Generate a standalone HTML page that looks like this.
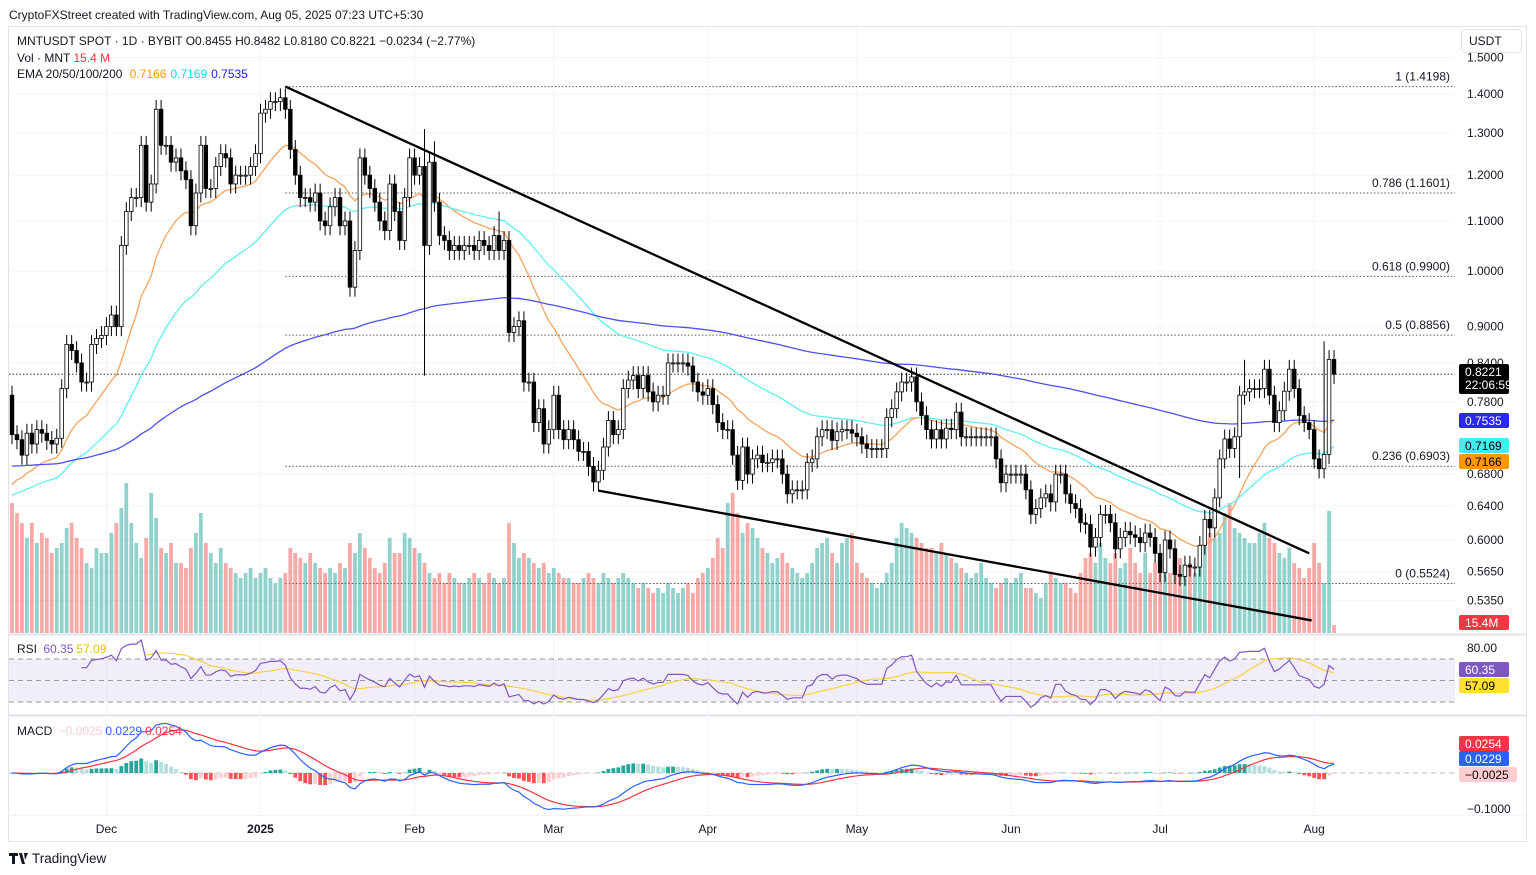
<!DOCTYPE html>
<html><head><meta charset="utf-8">
<style>
body{margin:0;background:#fff;width:1536px;height:875px;overflow:hidden;font-family:"Liberation Sans",sans-serif;}
svg{position:absolute;left:0;top:0;}
</style></head>
<body>
<svg id="chart" width="1536" height="875" viewBox="0 0 1536 875" xmlns="http://www.w3.org/2000/svg"></svg>
<script>
const closes = [
0.733,0.726,0.705,0.735,0.72,0.74,0.735,0.725,0.72,0.728,0.8,0.87,0.86,0.84,0.81,0.81,0.87,0.88,0.885,
0.9,0.92,0.9,1.05,1.12,1.15,1.15,1.27,1.14,1.18,1.36,1.27,1.27,1.23,1.24,1.21,1.19,1.09,1.16,1.27,1.17,1.17,1.22,1.25,1.24,1.18,1.2,1.2,1.2,1.22,1.25,
1.35,1.36,1.38,1.38,1.39,1.36,1.26,1.2,1.15,1.15,1.14,1.16,1.1,1.09,1.13,1.15,1.09,1.1,0.97,1.04,1.24,1.2,1.17,1.14,1.1,1.08,1.18,1.12,1.06,1.15,1.24,
1.2,1.22,1.05,1.23,1.14,1.07,1.06,1.04,1.05,1.04,1.05,1.05,1.04,1.06,1.05,1.04,1.07,1.04,1.06,0.89,0.9,0.91,0.81,0.81,0.75,0.77,0.72,0.74,
0.79,0.74,0.726,0.74,0.726,0.71,0.71,0.69,0.67,0.685,0.716,0.753,0.733,0.74,0.8,0.813,0.82,0.8,0.82,0.795,0.78,0.79,0.79,0.84,0.84,0.84,0.84,0.835,0.81,0.795,0.79,
0.8,0.776,0.75,0.74,0.74,0.705,0.672,0.716,0.68,0.7,0.705,0.695,0.695,0.7,0.7,0.68,0.655,0.66,0.66,0.66,0.695,0.7,0.73,0.74,0.74,0.725,0.737,0.74,0.74,0.735,
0.73,0.72,0.714,0.714,0.714,0.714,0.757,0.77,0.795,0.81,0.81,0.818,0.78,0.76,0.74,0.727,0.74,0.727,0.742,0.74,0.765,0.73,0.73,0.73,0.73,0.73,0.73,0.73,0.7,0.669,0.68,
0.68,0.68,0.68,0.66,0.63,0.637,0.65,0.655,0.645,0.68,0.68,0.655,0.643,0.637,0.62,0.618,0.592,0.603,0.63,0.63,0.62,0.59,0.603,0.61,0.606,0.603,0.597,0.608,0.603,0.585,
0.564,0.6,0.59,0.562,0.56,0.572,0.57,0.57,0.594,0.624,0.614,0.65,0.7,0.727,0.714,0.73,0.79,0.795,0.8,0.8,0.8,0.83,0.79,0.75,0.767,0.796,0.83,0.8,0.76,0.75,0.74,
0.7,0.687,0.706,0.8455,0.8221];
const firstOpen = 0.79;
const volumes = [
130,120,110,95,110,90,100,95,80,85,90,105,110,95,85,70,65,85,80,
80,100,110,125,150,110,90,75,95,140,115,85,80,90,70,70,65,85,100,120,90,80,70,85,70,65,60,55,60,65,55,
60,65,55,50,55,60,85,80,75,70,80,70,65,60,65,60,70,65,90,80,100,85,75,65,60,70,95,80,80,100,95,
85,80,70,60,55,60,50,60,55,50,50,55,60,55,50,60,55,50,55,110,90,75,80,75,70,65,70,60,
65,60,55,55,50,50,55,60,55,50,60,55,50,55,60,55,50,45,50,45,40,45,40,50,45,40,45,50,40,55,60,
65,75,95,85,130,140,120,100,110,105,95,85,80,70,75,80,70,65,60,55,60,70,85,90,95,80,70,90,95,100,
70,60,55,50,45,50,60,70,95,110,105,100,95,90,85,85,80,90,80,75,70,65,60,55,60,70,55,50,45,50,55,
50,55,60,45,45,40,35,50,60,55,50,50,45,40,60,75,80,70,90,75,70,80,65,70,85,70,60,80,60,70,
65,75,60,85,75,65,70,60,80,95,100,95,100,120,130,105,100,95,90,90,100,110,95,90,80,75,85,70,65,55,65,
90,70,50,122,8];
const wickHighs = {83:1.31,85:1.28,98:1.12,248:0.845,264:0.875};
const wickLows = {83:0.82,247:0.675};
const monthLabels = ["Dec","2025","Feb","Mar","Apr","May","Jun","Jul","Aug"];
const monthIndex = [19,50,81,109,140,170,201,231,262];
const priceTicks = [1.5,1.4,1.3,1.2,1.1,1.0,0.9,0.84,0.78,0.68,0.64,0.6,0.565,0.535];
const fibLevels = [1.4198,1.1601,0.99,0.8856,0.6903,0.5524];
const fibNames = ["1","0.786","0.618","0.5","0.236","0"];
const emaPeriods = [20,50,200];
const emaSeeds = [0.66,0.65,0.69];
const emaColors = ["#f7a35c","#5ff0f0","#4f4ff2"];
const upperTrend = [[55,1.4198],[261,0.585]];
const lowerTrend = [[118,0.659],[261.5,0.515]];

const NS="http://www.w3.org/2000/svg";
const svg=document.getElementById('chart');
function mk(tag,attrs,parent){const e=document.createElementNS(NS,tag);for(const k in attrs)e.setAttribute(k,attrs[k]);(parent||svg).appendChild(e);return e;}
function txt(s,attrs,parent){const e=mk('text',attrs,parent);e.textContent=s;return e;}
const xOf=i=>12+i*4.97;
const yP=p=>94-526.4*Math.log(p/1.4);
const yV=v=>633-v;
const yR=r=>680.5-(r-50)*1.075;
const yM=m=>773-m*380;

let g=mk('g',{});


mk('rect',{x:8.5,y:26.5,width:1518,height:815,fill:'none',stroke:'#e0e3eb'},g);
mk('line',{x1:8,y1:634.5,x2:1527,y2:634.5,stroke:'#e0e3eb','stroke-width':2},g);
mk('line',{x1:8,y1:715.5,x2:1527,y2:715.5,stroke:'#e0e3eb','stroke-width':2},g);
mk('line',{x1:8,y1:815.5,x2:1527,y2:815.5,stroke:'#f0f3fa'},g);

let t=txt('CryptoFXStreet created with TradingView.com, Aug 05, 2025 07:23 UTC+5:30',{x:9,y:19,'font-size':12,fill:'#131722'});


const grid=mk('g',{});

priceTicks.forEach(p=>mk('line',{x1:9,x2:1455,y1:yP(p),y2:yP(p),stroke:'#f3f4f7'},grid));
monthIndex.forEach(i=>mk('line',{x1:xOf(i),x2:xOf(i),y1:27,y2:815,stroke:'#f3f4f7'},grid));

const pax=mk('g',{'font-size':12,fill:'#131722'});

priceTicks.forEach(p=>{txt(p.toFixed(4),{x:1467,y:yP(p)+4},pax);});
const ub=mk('g',{});
mk('rect',{x:1461.5,y:29.5,width:60,height:23,rx:4,fill:'#fff',stroke:'#e0e3eb'},ub);
txt('USDT',{x:1469,y:45,'font-size':12,fill:'#131722'},ub);

const fg=mk('g',{});
fibLevels.forEach((p,k)=>{
  const y=yP(p);
  mk('line',{x1:xOf(55),x2:1455,y1:y,y2:y,stroke:'#555','stroke-dasharray':'1.5,2','stroke-width':1},fg);
  txt(fibNames[k]+' ('+p.toFixed(4)+')',{x:1450,y:y-6,'text-anchor':'end','font-size':12,fill:'#131722'},fg);
});
mk('line',{x1:9,x2:1455,y1:yP(0.8221),y2:yP(0.8221),stroke:'#333','stroke-dasharray':'1.5,2'});

const opens=[],highs=[],lows=[];
closes.forEach((c,i)=>{
  const o=i===0?firstOpen:(i===266?0.8455:closes[i-1]);
  opens.push(o);
  highs.push(wickHighs[i]!==undefined?wickHighs[i]:Math.max(o,c)*1.018);
  lows.push(wickLows[i]!==undefined?wickLows[i]:Math.min(o,c)*0.982);
});
const vg=mk('g',{});
volumes.forEach((v,i)=>{
  const up=closes[i]>=opens[i];
  const b=mk('rect',{x:xOf(i)-1.9,y:yV(v),width:3.8,height:v,fill:up?'rgba(38,166,154,0.5)':'rgba(239,83,80,0.5)'},vg);
  
  
});
function ema(arr,n,seed){const k=2/(n+1);let e=seed;return arr.map(v=>e=v*k+e*(1-k));}
emaPeriods.forEach((n,k)=>{
  const e=ema(closes,n,emaSeeds[k]);
  const l=mk('polyline',{points:e.map((v,i)=>xOf(i)+','+yP(v)).join(' '),fill:'none',stroke:emaColors[k],'stroke-width':1.3});
  
  
});
const cg=mk('g',{});
closes.forEach((c,i)=>{
  const o=opens[i],x=xOf(i),up=c>=o;
  mk('line',{x1:x,x2:x,y1:yP(highs[i]),y2:yP(lows[i]),stroke:'#000','stroke-width':1},cg);
  const top=yP(Math.max(o,c)),bot=yP(Math.min(o,c));
  const r=mk('rect',{x:x-1.8,y:top,width:3.6,height:Math.max(1,bot-top),fill:up?'#fff':'#000',stroke:'#000','stroke-width':0.8},cg);
  
  
});
[[upperTrend,'upper-trendline'],[lowerTrend,'lower-trendline']].forEach(([tl,nm])=>{
  const l=mk('line',{x1:xOf(tl[0][0]),y1:yP(tl[0][1]),x2:xOf(tl[1][0]),y2:yP(tl[1][1]),stroke:'#000','stroke-width':2.3});
  
  
});

const lg=mk('g',{'font-size':12,fill:'#131722'});
txt('MNTUSDT SPOT · 1D · BYBIT  O0.8455  H0.8482  L0.8180  C0.8221  −0.0234 (−2.77%)',{x:17,y:45,'xml:space':'preserve'},lg);
const l2=txt('Vol · MNT ',{x:17,y:62},lg);
const s1=mk('tspan',{fill:'#f23645'},l2);s1.textContent='15.4 M';
const l3=txt('EMA 20/50/100/200 ',{x:17,y:78},lg);
[['0.7166','#ff9800'],['0.7169','#00e5e5'],['0.7535','#2020ee']].forEach(([v,c])=>{const s=mk('tspan',{fill:c,dx:4},l3);s.textContent=v;});

function tag(label,y,bg,fg2,w,h,nm){const gg=mk('g',{});mk('rect',{x:1459,y:y,width:w||50,height:h||15,rx:2,fill:bg},gg);txt(label,{x:1465,y:y+12,'font-size':12,fill:fg2},gg);return gg;}
const pt=tag('0.8221',364,'#000','#fff',50,30,'last-price-tag');
txt('22:06:59',{x:1465,y:389,'font-size':12,fill:'#fff'},pt);
tag('0.7535',413,'#2828f0','#fff',50,15,'ema200-tag');
tag('0.7169',438,'#40f0f0','#000',50,15,'ema50-tag');
tag('0.7166',454,'#ff9800','#000',50,15,'ema20-tag');
tag('15.4M',615,'#f23645','#fff',50,15,'volume-tag');

function rsi(arr,n){const out=[];let ag=0,al=0;for(let i=1;i<arr.length;i++){const d=arr[i]-arr[i-1];const gn=Math.max(d,0),ls=Math.max(-d,0);if(i<=n){ag+=gn/n;al+=ls/n;if(i===n)out[i]=100-100/(1+ag/(al||1e-9));}else{ag=(ag*(n-1)+gn)/n;al=(al*(n-1)+ls)/n;out[i]=100-100/(1+ag/(al||1e-9));}}return out;}
const rsiVals=rsi(closes,14);
const rg=mk('g',{});
mk('rect',{x:9,y:yR(70),width:1446,height:yR(30)-yR(70),fill:'rgba(126,87,194,0.1)'},rg);
[70,50,30].forEach(v=>mk('line',{x1:9,x2:1455,y1:yR(v),y2:yR(v),stroke:'#999','stroke-dasharray':'5,4'},rg));
const rpts=[],mpts=[];
rsiVals.forEach((v,i)=>{if(v!==undefined)rpts.push(xOf(i)+','+yR(v));});
for(let i=27;i<closes.length;i++){let s=0;for(let j=i-13;j<=i;j++)s+=rsiVals[j];mpts.push(xOf(i)+','+yR(s/14));}
mk('polyline',{points:mpts.join(' '),fill:'none',stroke:'#f7d046','stroke-width':1.2},rg);
mk('polyline',{points:rpts.join(' '),fill:'none',stroke:'#7e57c2','stroke-width':1.2},rg);
const rl=txt('RSI ',{x:17,y:653,'font-size':12,fill:'#131722'},rg);
[['60.35','#7e57c2'],['57.09','#e8c000']].forEach(([v,c])=>{const s=mk('tspan',{fill:c,dx:3},rl);s.textContent=v;});
txt('80.00',{x:1467,y:652,'font-size':12,fill:'#131722'},rg);
tag('60.35',662,'#7e57c2','#fff',50,15,'rsi-tag');
tag('57.09',678,'#ffe033','#000',50,15,'rsi-ma-tag');

const e12=ema(closes,12,closes[0]),e26=ema(closes,26,closes[0]);
const macd=e12.map((v,i)=>v-e26[i]);
const sig=ema(macd,9,0);
const mg=mk('g',{});
mk('line',{x1:9,x2:1455,y1:yM(0),y2:yM(0),stroke:'#bbb','stroke-dasharray':'5,4'},mg);
macd.forEach((m,i)=>{
  const h=m-sig[i],ph=i>0?macd[i-1]-sig[i-1]:0;
  const col=h>=0?(h>=ph?'#26a69a':'#b2dfdb'):(h<ph?'#ff5252':'#ffcdd2');
  const y1=yM(Math.max(h,0)),y2=yM(Math.min(h,0));
  const b=mk('rect',{x:xOf(i)-1.9,y:y1,width:3.8,height:Math.max(0.5,y2-y1),fill:col},mg);
  
  
});
mk('polyline',{points:sig.map((v,i)=>xOf(i)+','+yM(v)).join(' '),fill:'none',stroke:'#f23645','stroke-width':1.2},mg);
mk('polyline',{points:macd.map((v,i)=>xOf(i)+','+yM(v)).join(' '),fill:'none',stroke:'#2962ff','stroke-width':1.2},mg);
const ml=txt('MACD ',{x:17,y:735,'font-size':12,fill:'#131722'},mg);
[['−0.0025','#ffcdd2'],['0.0229','#2962ff'],['0.0254','#f23645']].forEach(([v,c])=>{const s=mk('tspan',{fill:c,dx:3},ml);s.textContent=v;});
tag('0.0254',736,'#f23645','#fff',50,15,'macd-signal-tag');
tag('0.0229',751,'#2962ff','#fff',50,15,'macd-line-tag');
tag('−0.0025',767,'#ffcdd2','#000',58,15,'macd-hist-tag');
txt('−0.1000',{x:1467,y:813,'font-size':12,fill:'#131722'},mg);

const tg=mk('g',{'font-size':12,fill:'#131722','text-anchor':'middle'});

monthLabels.forEach((m,k)=>{const e=txt(m,{x:xOf(monthIndex[k]),y:833},tg);if(m==='2025')e.setAttribute('font-weight','bold');});

const lo=mk('g',{});
mk('path',{d:'M9 853h9v3h-3v8h-3v-8h-3z M19 853h3l3 11h-3z M24 853h4l-3 7z',fill:'#131722'},lo);
txt('TradingView',{x:32,y:863,'font-size':13.5,fill:'#131722'},lo);
</script>
</body></html>
